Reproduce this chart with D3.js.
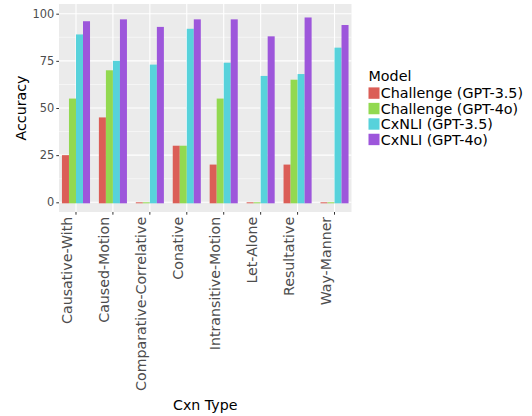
<!DOCTYPE html>
<html>
<head>
<meta charset="utf-8">
<script src="https://cdn.jsdelivr.net/npm/d3@7"></script>
<style>
    body { margin: 0; background: #fff; }
    svg { display: block; font-family: "DejaVu Sans", sans-serif; }
</style>
</head>
<body>
<svg id="chart" width="532" height="416"></svg>
<script>
/**
 * Data.
 */
const cxnTypes = ['Causative-With', 'Caused-Motion', 'Comparative-Correlative', 'Conative',
    'Intransitive-Motion', 'Let-Alone', 'Resultative', 'Way-Manner'];
const models = ['Challenge (GPT-3.5)', 'Challenge (GPT-4o)', 'CxNLI (GPT-3.5)', 'CxNLI (GPT-4o)'];
const challengeGpt35 = [25, 45, 0, 30, 20, 0, 20, 0];
const challengeGpt4o = [55, 70, 0, 30, 55, 0, 65, 0];
const cxnliGpt35 = [89, 75, 73, 92, 74, 67, 68, 82];
const cxnliGpt4o = [96, 97, 93, 97, 97, 88, 98, 94];
const yTicks = [0, 25, 50, 75, 100];
const yMinorTicks = [12.5, 37.5, 62.5, 87.5];

const seriesValues = [challengeGpt35, challengeGpt4o, cxnliGpt35, cxnliGpt4o];
const data = [];
cxnTypes.forEach((c, i) => {
    models.forEach((m, j) => data.push({ cxn: c, model: m, value: seriesValues[j][i] }));
});

/**
 * Visual configs.
 */
const panel = { left: 59, right: 351.5, top: 4, bottom: 212 };
const colors = ['#DB5E57', '#92D950', '#57D2DB', '#9D56DB'];
const textGray = '#4D4D4D', tickGray = '#333333';

/**
 * D3.
 */
const svg = d3.select('#chart');

const xScale = d3.scaleBand().domain(cxnTypes)
    .range([panel.left, panel.right])
    .paddingInner(0.24).paddingOuter(0.08);
const xInner = d3.scaleBand().domain(models).range([0, xScale.bandwidth()]);
const yScale = d3.scaleLinear().domain([-5.14, 105.14]).range([panel.bottom, panel.top]);
const color = d3.scaleOrdinal().domain(models).range(colors);

// Panel background
svg.append('rect')
    .attr('x', panel.left).attr('y', panel.top)
    .attr('width', panel.right - panel.left).attr('height', panel.bottom - panel.top)
    .attr('fill', '#EBEBEB');

// Grid lines
const grid = svg.append('g').attr('class', 'grid').attr('stroke', '#fff');
grid.selectAll('.minor').data(yMinorTicks).enter().append('line')
    .attr('class', 'minor')
    .attr('x1', panel.left).attr('x2', panel.right)
    .attr('y1', d => yScale(d)).attr('y2', d => yScale(d))
    .attr('stroke-width', 0.55);
grid.selectAll('.major-y').data(yTicks).enter().append('line')
    .attr('class', 'major-y')
    .attr('x1', panel.left).attr('x2', panel.right)
    .attr('y1', d => yScale(d)).attr('y2', d => yScale(d))
    .attr('stroke-width', 1.1);
grid.selectAll('.major-x').data(cxnTypes).enter().append('line')
    .attr('class', 'major-x')
    .attr('x1', d => xScale(d) + xScale.bandwidth() / 2).attr('x2', d => xScale(d) + xScale.bandwidth() / 2)
    .attr('y1', panel.top).attr('y2', panel.bottom)
    .attr('stroke-width', 1.1);

// Bars (zero values still leave a hairline, as in the reference)
svg.append('g').attr('class', 'bars')
    .selectAll('rect').data(data).enter().append('rect')
    .attr('x', d => xScale(d.cxn) + xInner(d.model))
    .attr('y', d => yScale(d.value))
    .attr('width', xInner.bandwidth())
    .attr('height', d => yScale(0) - yScale(d.value) + 1)
    .attr('fill', d => color(d.model));

// Y axis
const yAxis = d3.axisLeft(yScale).tickValues(yTicks).tickSize(2.7).tickPadding(2);
const yAxisContainer = svg.append('g')
    .attr('transform', 'translate(' + panel.left + ',0)')
    .call(yAxis);
yAxisContainer.select('.domain').remove();
yAxisContainer.selectAll('line').attr('stroke', tickGray);
yAxisContainer.selectAll('text')
    .attr('fill', textGray)
    .attr('font-size', 11.4)
    .attr('font-family', 'DejaVu Sans');

// X axis
const xAxis = d3.axisBottom(xScale).tickSize(2.7).tickSizeOuter(0);
const xAxisContainer = svg.append('g')
    .attr('transform', 'translate(0,' + panel.bottom + ')')
    .call(xAxis);
xAxisContainer.select('.domain').remove();
xAxisContainer.selectAll('line').attr('stroke', tickGray);
xAxisContainer.selectAll('text')
    .attr('fill', textGray)
    .attr('font-size', 14.2)
    .attr('font-family', 'DejaVu Sans')
    .attr('text-anchor', 'end')
    .attr('y', 0).attr('dy', 0)
    .attr('transform', 'translate(-4,4.8) rotate(-90)')
    .attr('x', 0);

// Axis titles
svg.append('text')
    .attr('x', (panel.left + panel.right) / 2).attr('y', 409.5)
    .attr('text-anchor', 'middle')
    .attr('font-size', 14.2)
    .attr('fill', '#000')
    .text('Cxn Type');
svg.append('text')
    .attr('transform', 'translate(26,' + (panel.top + panel.bottom) / 2 + ') rotate(-90)')
    .attr('text-anchor', 'middle')
    .attr('font-size', 14.2)
    .attr('fill', '#000')
    .text('Accuracy');

// Legend
const legend = svg.append('g').attr('transform', 'translate(368.5,0)');
legend.append('text')
    .attr('x', 0).attr('y', 80.8)
    .attr('font-size', 14.3)
    .text('Model');
const entries = legend.selectAll('.entry').data(models).enter().append('g')
    .attr('class', 'entry')
    .attr('transform', (d, i) => 'translate(0,' + (87.4 + i * 15.45) + ')');
entries.append('rect')
    .attr('width', 11).attr('height', 11.4)
    .attr('fill', d => color(d));
entries.append('text')
    .attr('x', 12.3).attr('y', 10.9)
    .attr('font-size', 14.3)
    .text(d => d);
</script>
</body>
</html>
